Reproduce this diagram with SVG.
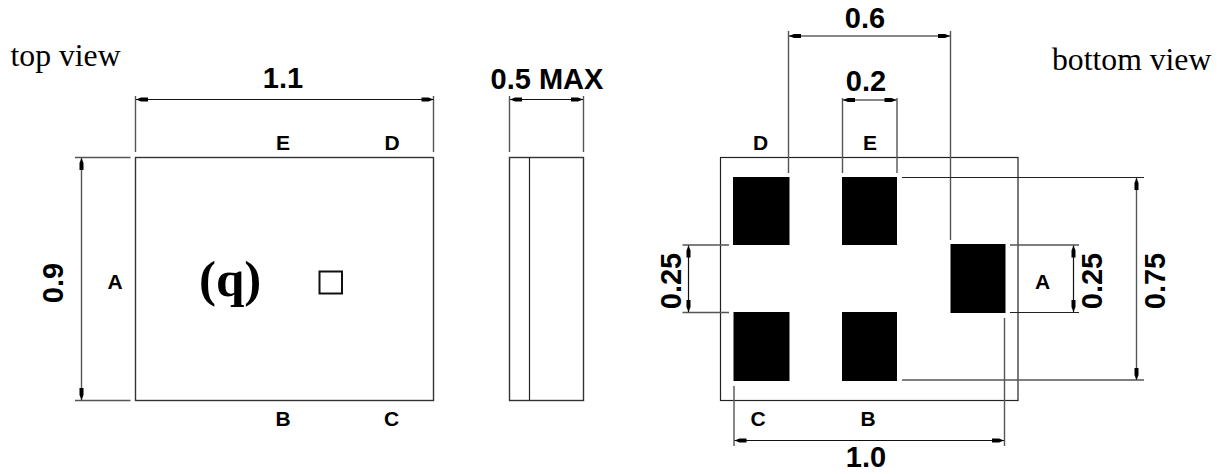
<svg xmlns="http://www.w3.org/2000/svg" width="1223" height="474" viewBox="0 0 1223 474">
<style>
.o{fill:none;stroke:#333;stroke-width:1.4}
.e{fill:none;stroke:#555;stroke-width:1.4}
.k{fill:none;stroke:#222;stroke-width:1.2}
.d{fill:none;stroke:#111;stroke-width:1.2;marker-start:url(#a);marker-end:url(#a)}
.p{fill:#000}
text{font-family:"Liberation Sans",Arial,sans-serif;font-weight:700;fill:#000}
.l{font-size:21px}
.n{font-size:29px}
.t{font-family:"Liberation Serif","Times New Roman",serif;font-weight:400;font-size:31.7px}
</style>
<defs>
<marker id="a" markerUnits="userSpaceOnUse" markerWidth="14" markerHeight="6" refX="13" refY="3" orient="auto-start-reverse"><path d="M13 3L8 1H1V5H8Z" fill="#000"/></marker>
</defs>
<rect width="1223" height="474" fill="#fff"/>
<g id="top-view">
<text class="t" x="10.500" y="65.500">top view</text>
<rect class="o" x="135.500" y="157.500" width="298" height="243"/>
<rect x="319.500" y="271.500" width="22.500" height="22" fill="none" stroke="#111" stroke-width="2"/>
<text x="199" y="295.500" style="font-family:'Liberation Serif','Times New Roman',serif;font-size:51px">(q)</text>
<text class="l" x="283" y="150" text-anchor="middle">E</text>
<text class="l" x="392" y="150" text-anchor="middle">D</text>
<text class="l" x="115" y="289" text-anchor="middle">A</text>
<text class="l" x="283" y="425.500" text-anchor="middle">B</text>
<text class="l" x="391.500" y="425.500" text-anchor="middle">C</text>
<text class="n" x="283" y="87.500" text-anchor="middle">1.1</text>
<text class="n" transform="translate(63 283) rotate(-90)" text-anchor="middle">0.9</text>
</g>
<g id="side-view">
<rect class="o" x="509.500" y="157.500" width="74" height="243"/>
<line class="k" x1="529.500" y1="157" x2="529.500" y2="400"/>
<text class="n" x="547" y="89" text-anchor="middle">0.5 MAX</text>
</g>
<g id="bottom-view">
<text class="t" x="1052" y="69.500">bottom view</text>
<rect class="k" x="720.500" y="157.500" width="297.500" height="243"/>
<rect id="pad-d" class="p" x="733" y="177" width="56.500" height="68"/>
<rect id="pad-e" class="p" x="842" y="177" width="55" height="68"/>
<rect id="pad-a" class="p" x="950.500" y="244" width="55" height="69"/>
<rect id="pad-c" class="p" x="733.500" y="312" width="56" height="69"/>
<rect id="pad-b" class="p" x="842" y="312" width="55" height="69"/>
<text class="l" x="760.500" y="150" text-anchor="middle">D</text>
<text class="l" x="870" y="150" text-anchor="middle">E</text>
<text class="l" x="1042.500" y="289" text-anchor="middle">A</text>
<text class="l" x="758" y="425.500" text-anchor="middle">C</text>
<text class="l" x="868" y="425.500" text-anchor="middle">B</text>
<text class="n" x="865" y="28" text-anchor="middle">0.6</text>
<text class="n" x="866" y="90.500" text-anchor="middle">0.2</text>
<text class="n" x="866" y="467" text-anchor="middle">1.0</text>
<text class="n" transform="translate(681 281) rotate(-90)" text-anchor="middle">0.25</text>
<text class="n" transform="translate(1101.500 281) rotate(-90)" text-anchor="middle">0.25</text>
<text class="n" transform="translate(1164.500 281) rotate(-90)" text-anchor="middle">0.75</text>
</g>
<g id="connectors">
<path class="e" d="M135.500 96V152M433.500 96V152M509.500 96V152M583.500 96V152M75 157.500H130.500M75 400.500H130.500"/>
<path class="e" d="M788.500 31V173M950.500 31V240M842.500 98V173M897 98V173M902 380H1144M682.500 245H729M682.500 312.500H729M1010 245H1079M734 386V446M1004.500 318V446"/>
<path class="k" d="M902 177.500H1144M1010 312.500H1079"/>
<line class="d" x1="136" y1="99.500" x2="433.500" y2="99.500"/>
<line class="d" x1="510" y1="99.500" x2="583" y2="99.500"/>
<line class="e" style="marker-start:url(#a);marker-end:url(#a)" x1="81.500" y1="158" x2="81.500" y2="400"/>
<line class="d" x1="789" y1="36" x2="950" y2="36"/>
<line class="d" x1="843" y1="100" x2="896.500" y2="100"/>
<line class="e" style="marker-start:url(#a);marker-end:url(#a)" x1="1136.500" y1="178" x2="1136.500" y2="380"/>
<line class="d" x1="688.500" y1="245.500" x2="688.500" y2="312"/>
<line class="d" x1="1073.500" y1="245.500" x2="1073.500" y2="312"/>
<line class="d" x1="734.500" y1="440.500" x2="1004" y2="440.500"/>
</g>
</svg>
